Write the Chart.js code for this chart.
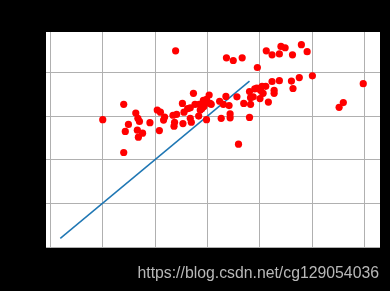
<!DOCTYPE html>
<html>
<head>
<meta charset="utf-8">
<script src="https://cdn.jsdelivr.net/npm/chart.js@4"></script>
<style>
  html, body { margin: 0; padding: 0; background: #000; }
  #wrap { width: 390px; height: 291px; position: relative; }
</style>
</head>
<body>
<div id="wrap"><canvas id="myChart"></canvas></div>
<script>
// scatter data (in grid units)
const xs = [1.00, 1.40, 1.43, 1.40, 1.49, 1.63, 1.67, 1.70, 1.66, 1.68, 1.76, 1.90, 2.04, 2.10, 2.08, 2.16, 2.18,
  2.34, 2.41, 2.37, 2.36, 2.39, 2.52, 2.55, 2.53, 2.62, 2.67, 2.67, 2.69, 2.73, 2.76, 2.84, 2.83, 2.86, 2.89,
  2.92, 2.93, 2.95, 2.98, 2.98, 3.03, 3.05, 3.07, 3.23, 3.26, 3.30, 3.35, 3.36, 3.41, 3.43, 3.43, 3.49, 3.56,
  3.59, 3.66, 3.69, 3.80, 3.82, 3.80, 3.82, 3.87, 3.90, 3.94, 3.95, 4.00, 4.01, 4.04, 4.06, 4.11, 4.12, 4.16,
  4.23, 4.23, 4.27, 4.27, 4.37, 4.37, 4.40, 4.48, 4.60, 4.62, 4.63, 4.75, 4.79, 4.90, 5.00, 5.51, 5.59, 5.97];
const ys = [2.92, 3.27, 2.65, 2.17, 2.81, 3.07, 2.95, 2.88, 2.68, 2.52, 2.61, 2.85, 3.14, 3.09, 2.67, 2.91, 2.98,
  3.02, 3.04, 2.86, 2.77, 4.49, 3.29, 3.09, 2.83, 3.17, 3.19, 2.95, 2.86, 3.52, 3.27, 3.27, 3.00, 3.14, 3.17,
  3.36, 3.22, 3.29, 2.92, 3.38, 3.48, 3.29, 3.27, 3.34, 2.95, 3.27, 3.45, 4.33, 3.24, 3.05, 2.96, 4.27, 3.44,
  2.36, 4.33, 3.29, 2.97, 3.27, 3.56, 3.42, 3.44, 3.62, 3.64, 4.11, 3.40, 3.59, 3.68, 3.52, 3.68, 4.49, 3.32,
  3.79, 4.40, 3.59, 3.52, 4.42, 3.81, 4.59, 4.56, 3.80, 4.40, 3.63, 3.88, 4.63, 4.47, 3.92, 3.20, 3.31, 3.74];

// fitted line
const fitX = [0.19, 3.80];
const fitY = [0.21, 3.80];

// grid positions
const xTicks = [0, 1, 2, 3, 4, 5, 6];
const yTicks = [0, 1, 2, 3, 4];

const watermark = "https://blog.csdn.net/cg129054036";

const plotBg = {
  id: "plotBg",
  beforeDraw(chart) {
    const { ctx, chartArea: a } = chart;
    ctx.save();
    ctx.fillStyle = "#fff";
    ctx.fillRect(a.left, a.top, a.right - a.left, a.bottom - a.top);
    ctx.restore();
  },
  afterDraw(chart) {
    const ctx = chart.ctx;
    ctx.save();
    ctx.fillStyle = "#b8b8b8";
    ctx.font = '15.8px "Liberation Sans", Arial, sans-serif';
    ctx.textAlign = "right";
    ctx.textBaseline = "alphabetic";
    ctx.fillText(watermark, 379, 278);
    ctx.restore();
  },
};

const ctx = document.getElementById("myChart");
new Chart(ctx, {
  type: "scatter",
  data: {
    datasets: [
      {
        data: xs.map((x, i) => ({ x: x, y: ys[i] })),
        backgroundColor: "#ff0000",
        borderColor: "#ff0000",
        pointRadius: 3.6,
        pointBorderWidth: 0,
        order: 1,
      },
      {
        type: "line",
        data: fitX.map((x, i) => ({ x: x, y: fitY[i] })),
        borderColor: "#1f77b4",
        borderWidth: 1.5,
        pointRadius: 0,
        fill: false,
        order: 2,
      },
    ],
  },
  options: {
    responsive: true,
    maintainAspectRatio: false,
    animation: false,
    layout: { padding: { left: 46, right: 10, top: 32, bottom: 43 } },
    plugins: {
      legend: { display: false },
      tooltip: { enabled: false },
    },
    scales: {
      x: {
        type: "linear",
        min: -0.083,
        max: 6.29,
        afterBuildTicks: (s) => { s.ticks = xTicks.map((v) => ({ value: v })); },
        ticks: { display: false },
        grid: { color: "#b0b0b0", lineWidth: 1, drawTicks: false },
        border: { display: false },
      },
      y: {
        type: "linear",
        min: -0.01,
        max: 4.92,
        afterBuildTicks: (s) => { s.ticks = yTicks.map((v) => ({ value: v })); },
        ticks: { display: false },
        grid: { color: "#b0b0b0", lineWidth: 1, drawTicks: false },
        border: { display: false },
      },
    },
  },
  plugins: [plotBg],
});
</script>
</body>
</html>
